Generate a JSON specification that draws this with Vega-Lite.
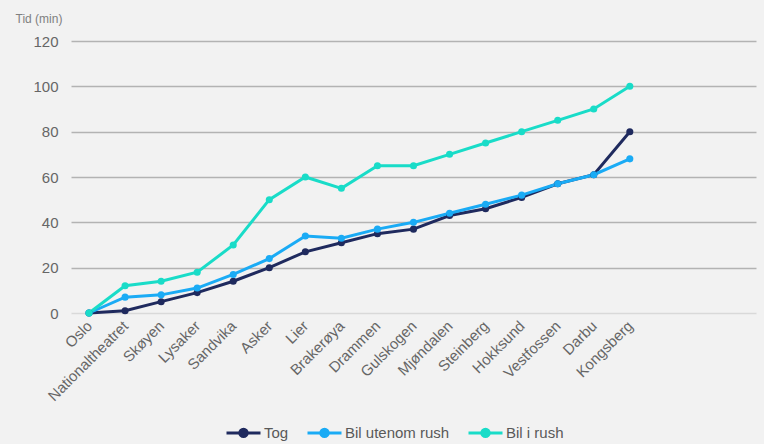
{
  "$schema": "https://vega.github.io/schema/vega-lite/v6.json",
  "autosize": "none",
  "width": 685,
  "height": 272,
  "padding": {"left": 71, "top": 41, "right": 8, "bottom": 131},
  "background": "#f2f2f2",
  "config": {
    "view": {"stroke": null},
    "font": "Liberation Sans"
  },
  "data": {
    "values": [
      {"stasjon": "Oslo", "serie": "Tog", "tid": 0},
      {"stasjon": "Nationaltheatret", "serie": "Tog", "tid": 1},
      {"stasjon": "Skøyen", "serie": "Tog", "tid": 5},
      {"stasjon": "Lysaker", "serie": "Tog", "tid": 9},
      {"stasjon": "Sandvika", "serie": "Tog", "tid": 14},
      {"stasjon": "Asker", "serie": "Tog", "tid": 20},
      {"stasjon": "Lier", "serie": "Tog", "tid": 27},
      {"stasjon": "Brakerøya", "serie": "Tog", "tid": 31},
      {"stasjon": "Drammen", "serie": "Tog", "tid": 35},
      {"stasjon": "Gulskogen", "serie": "Tog", "tid": 37},
      {"stasjon": "Mjøndalen", "serie": "Tog", "tid": 43},
      {"stasjon": "Steinberg", "serie": "Tog", "tid": 46},
      {"stasjon": "Hokksund", "serie": "Tog", "tid": 51},
      {"stasjon": "Vestfossen", "serie": "Tog", "tid": 57},
      {"stasjon": "Darbu", "serie": "Tog", "tid": 61},
      {"stasjon": "Kongsberg", "serie": "Tog", "tid": 80},
      {"stasjon": "Oslo", "serie": "Bil utenom rush", "tid": 0},
      {"stasjon": "Nationaltheatret", "serie": "Bil utenom rush", "tid": 7},
      {"stasjon": "Skøyen", "serie": "Bil utenom rush", "tid": 8},
      {"stasjon": "Lysaker", "serie": "Bil utenom rush", "tid": 11},
      {"stasjon": "Sandvika", "serie": "Bil utenom rush", "tid": 17},
      {"stasjon": "Asker", "serie": "Bil utenom rush", "tid": 24},
      {"stasjon": "Lier", "serie": "Bil utenom rush", "tid": 34},
      {"stasjon": "Brakerøya", "serie": "Bil utenom rush", "tid": 33},
      {"stasjon": "Drammen", "serie": "Bil utenom rush", "tid": 37},
      {"stasjon": "Gulskogen", "serie": "Bil utenom rush", "tid": 40},
      {"stasjon": "Mjøndalen", "serie": "Bil utenom rush", "tid": 44},
      {"stasjon": "Steinberg", "serie": "Bil utenom rush", "tid": 48},
      {"stasjon": "Hokksund", "serie": "Bil utenom rush", "tid": 52},
      {"stasjon": "Vestfossen", "serie": "Bil utenom rush", "tid": 57},
      {"stasjon": "Darbu", "serie": "Bil utenom rush", "tid": 61},
      {"stasjon": "Kongsberg", "serie": "Bil utenom rush", "tid": 68},
      {"stasjon": "Oslo", "serie": "Bil i rush", "tid": 0},
      {"stasjon": "Nationaltheatret", "serie": "Bil i rush", "tid": 12},
      {"stasjon": "Skøyen", "serie": "Bil i rush", "tid": 14},
      {"stasjon": "Lysaker", "serie": "Bil i rush", "tid": 18},
      {"stasjon": "Sandvika", "serie": "Bil i rush", "tid": 30},
      {"stasjon": "Asker", "serie": "Bil i rush", "tid": 50},
      {"stasjon": "Lier", "serie": "Bil i rush", "tid": 60},
      {"stasjon": "Brakerøya", "serie": "Bil i rush", "tid": 55},
      {"stasjon": "Drammen", "serie": "Bil i rush", "tid": 65},
      {"stasjon": "Gulskogen", "serie": "Bil i rush", "tid": 65},
      {"stasjon": "Mjøndalen", "serie": "Bil i rush", "tid": 70},
      {"stasjon": "Steinberg", "serie": "Bil i rush", "tid": 75},
      {"stasjon": "Hokksund", "serie": "Bil i rush", "tid": 80},
      {"stasjon": "Vestfossen", "serie": "Bil i rush", "tid": 85},
      {"stasjon": "Darbu", "serie": "Bil i rush", "tid": 90},
      {"stasjon": "Kongsberg", "serie": "Bil i rush", "tid": 100}
    ]
  },
  "mark": {"type": "line", "strokeWidth": 3, "point": {"filled": true, "size": 50}},
  "encoding": {
    "x": {
      "field": "stasjon",
      "type": "nominal",
      "sort": null,
      "scale": {
        "type": "point",
        "domain": ["Oslo", "Nationaltheatret", "Skøyen", "Lysaker", "Sandvika", "Asker", "Lier", "Brakerøya", "Drammen", "Gulskogen", "Mjøndalen", "Steinberg", "Hokksund", "Vestfossen", "Darbu", "Kongsberg", "_1", "_2", "_3"],
        "padding": 0.5
      },
      "axis": {
        "title": null,
        "domain": false,
        "ticks": false,
        "labelExpr": "indexof(datum.value, '_') === 0 ? '' : datum.label",
        "labelAngle": -45,
        "labelAlign": "right",
        "labelBaseline": "middle",
        "labelPadding": 10,
        "labelFontSize": 15,
        "labelColor": "#666666"
      }
    },
    "y": {
      "field": "tid",
      "type": "quantitative",
      "scale": {"domain": [0, 120]},
      "axis": {
        "values": [0, 20, 40, 60, 80, 100, 120],
        "domain": false,
        "ticks": false,
        "labelPadding": 13,
        "labelFontSize": 15,
        "labelColor": "#666666",
        "gridColor": {"condition": {"test": "datum.value === 0", "value": "#d9d9d9"}, "value": "#b3b3b3"},
        "gridWidth": 1.5,
        "title": "Tid (min)",
        "titleAngle": 0,
        "titleAlign": "left",
        "titleBaseline": "middle",
        "titleX": -56,
        "titleY": -23,
        "titleFontSize": 12,
        "titleFontWeight": "normal",
        "titleColor": "#808080"
      }
    },
    "color": {
      "field": "serie",
      "type": "nominal",
      "sort": ["Tog", "Bil utenom rush", "Bil i rush"],
      "scale": {
        "domain": ["Tog", "Bil utenom rush", "Bil i rush"],
        "range": ["#1f2a5e", "#1aabf5", "#19dcc8"]
      },
      "legend": {
        "title": null,
        "orient": "none",
        "direction": "horizontal",
        "legendX": 154,
        "legendY": 373,
        "symbolType": "M-1,0L1,0M-0.22,0A0.22,0.22 0 1,1 0.22,0A0.22,0.22 0 1,1 -0.22,0Z",
        "symbolSize": 1156,
        "symbolStrokeWidth": 3,
        "labelFontSize": 15,
        "labelColor": "#595959",
        "labelOffset": 2,
        "columnPadding": 12
      }
    }
  }
}
